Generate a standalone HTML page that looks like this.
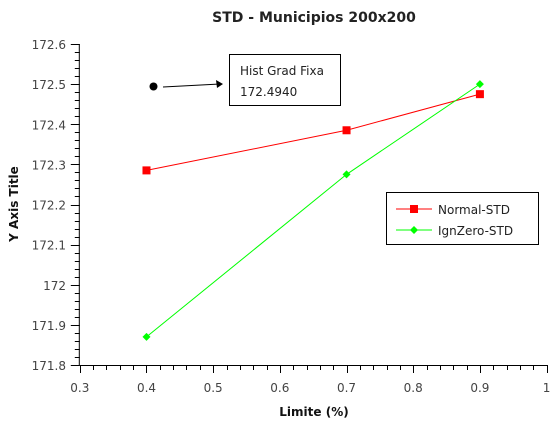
<!DOCTYPE html>
<html><head><meta charset="utf-8"><style>
body{margin:0;background:#fff;}
svg{display:block;font-family:"DejaVu Sans","Liberation Sans",sans-serif;}
</style></head><body>
<svg id="chart" width="557" height="432" viewBox="0 0 557 432">
<text x="314" y="22" text-anchor="middle" font-size="14" font-weight="bold" fill="#222">STD - Municipios 200x200</text>
<text x="314" y="416" text-anchor="middle" font-size="12" font-weight="bold" fill="#111">Limite (%)</text>
<text transform="translate(18,204) rotate(-90)" text-anchor="middle" font-size="12" font-weight="bold" fill="#111">Y Axis Title</text>
<g id="axes"></g>
<g id="series"></g>
<g>
<circle cx="153.5" cy="86.5" r="4" fill="#000"/>
<line x1="163" y1="87" x2="220" y2="84" stroke="#000" stroke-width="1"/>
<polygon points="223,84 216,80 217,88" fill="#000"/>
<rect x="229.5" y="54.5" width="111" height="51" fill="#fff" stroke="#000"/>
<text x="240" y="75" font-size="12" fill="#222">Hist Grad Fixa</text>
<text x="240" y="96" font-size="12" fill="#222">172.4940</text>
</g>
<g>
<rect x="386.5" y="192.5" width="152" height="52" fill="#fff" stroke="#000"/>
<g>
<line x1="396" y1="209" x2="432" y2="209" stroke="#f00"/><rect x="410" y="205" width="8" height="8" fill="#f00"/>
<text x="438" y="214" font-size="12" fill="#222">Normal-STD</text></g>
<g>
<line x1="396" y1="230" x2="432" y2="230" stroke="#0f0"/><polygon points="414,226 418,230 414,234 410,230" fill="#0f0"/>
<text x="438" y="235" font-size="12" fill="#222">IgnZero-STD</text></g>
</g>
</svg>
<script>
const xCats=[0.4,0.7,0.9];
const normalStd=[172.285,172.385,172.475];
const ignZeroStd=[171.87,172.275,172.50];
const xTicks=["0.3","0.4","0.5","0.6","0.7","0.8","0.9","1"];
const yTicks=["171.8","171.9","172","172.1","172.2","172.3","172.4","172.5","172.6"];
const NS="http://www.w3.org/2000/svg";
const X0=79.8,X1=546.6,Y0=365,Y1=44;
const xs=v=>X0+(v-0.3)/0.7*(X1-X0);
const ys=v=>Y0-(v-171.8)/0.8*(Y0-Y1);
function mk(t,a,p){const e=document.createElementNS(NS,t);for(const k in a)e.setAttribute(k,a[k]);p.appendChild(e);return e;}
const ax=document.getElementById('axes');
const xl=mk('line',{x1:X0,y1:Y0+.5,x2:X1+1,y2:Y0+.5,stroke:'#000'},ax);


const yl=mk('line',{x1:X0-.5,y1:Y1,x2:X0-.5,y2:Y0+1,stroke:'#000'},ax);


for(let i=0;i<=35;i++){const x=Math.round(X0+i*(X1-X0)/35)+.5;const maj=i%5==0;
mk('line',{x1:x,y1:Y0,x2:x,y2:Y0+(maj?8:5),stroke:'#000'},ax);}
xTicks.forEach((t,i)=>{const e=mk('text',{x:xs(0.3+i*0.1),y:392,'text-anchor':'middle','font-size':12,fill:'#444'},ax);e.textContent=t;

});
for(let i=0;i<=40;i++){const y=Math.round(Y0-i*(Y0-Y1)/40)+.5;const maj=i%5==0;
mk('line',{x1:X0-(maj?9:5),y1:y,x2:X0,y2:y,stroke:'#000'},ax);}
yTicks.forEach((t,i)=>{const e=mk('text',{x:66,y:ys(171.8+i*0.1)+5,'text-anchor':'end','font-size':12,fill:'#444'},ax);e.textContent=t;

});
const sg=document.getElementById('series');
function series(vals,col,name,marker){
const g=mk('g',{},sg);


mk('polyline',{points:vals.map((v,i)=>xs(xCats[i])+','+ys(v)).join(' '),fill:'none',stroke:col,'stroke-width':1},g);
vals.forEach((v,i)=>{const x=xs(xCats[i]),y=ys(v);let m;
if(marker=='sq')m=mk('rect',{x:x-4,y:y-4,width:8,height:8,fill:col},g);
else m=mk('polygon',{points:`${x},${y-4} ${x+4},${y} ${x},${y+4} ${x-4},${y}`,fill:col},g);

});}
series(normalStd,'#f00','series-normal-std','sq');
series(ignZeroStd,'#0f0','series-ignzero-std','dia');
</script>
</body></html>
